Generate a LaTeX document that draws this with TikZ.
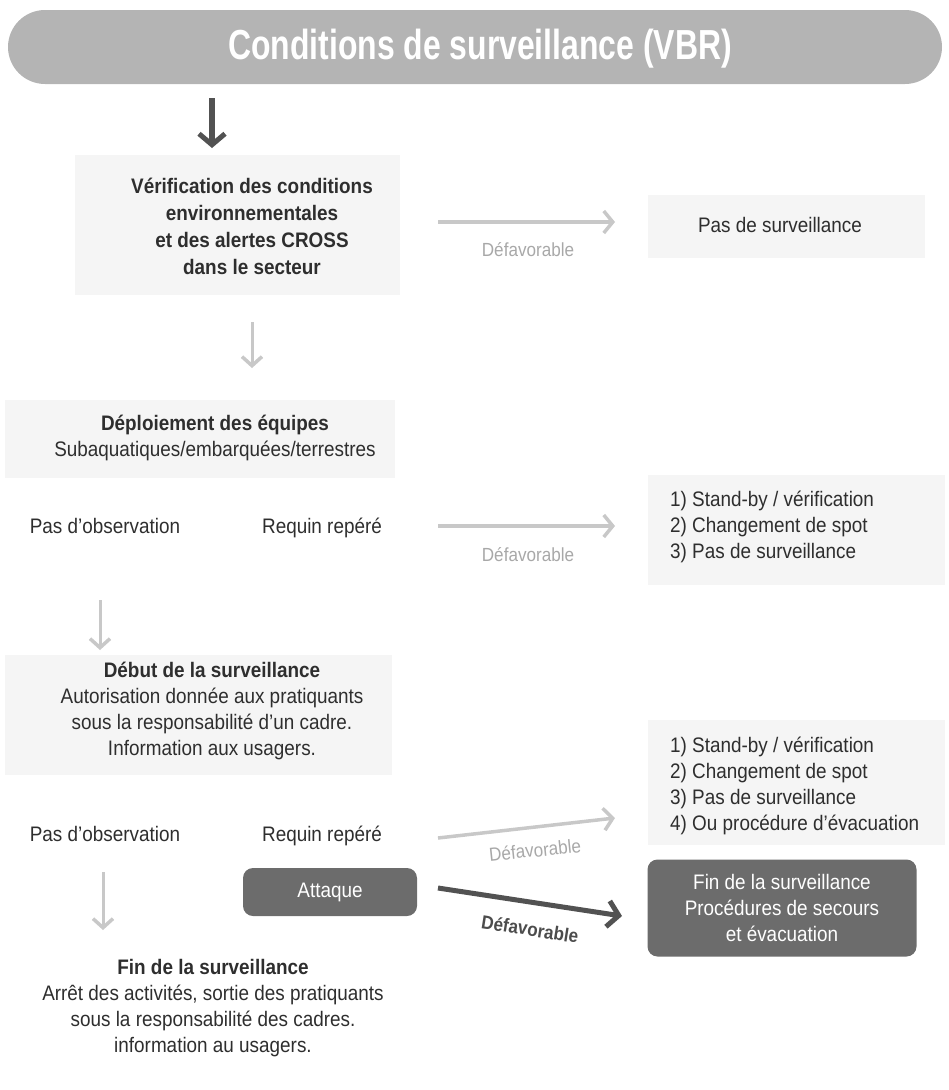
\documentclass[tikz,border=0pt]{standalone}
\usepackage{fontspec}
\setmainfont{Liberation Sans}[FakeStretch=0.9]
\newfontfamily\titlefont{Liberation Sans Bold}[FakeStretch=0.76]
\usetikzlibrary{arrows.meta}
\definecolor{txt}{HTML}{2E2E2E}
\definecolor{bannergray}{HTML}{B4B4B4}
\definecolor{boxgray}{HTML}{6C6C6C}
\definecolor{lightarr}{HTML}{C8C8C8}
\definecolor{faint}{HTML}{F5F5F5}
\definecolor{labgray}{HTML}{A8A8A8}
\tikzset{
  body/.style={text=txt, font=\fontsize{21}{26}\selectfont, align=center, inner sep=0pt},
  rowtxt/.style={text=txt, font=\fontsize{21}{26}\selectfont, inner sep=0pt, anchor=base},
  listtxt/.style={body, align=left, anchor=west},
  lab/.style={text=labgray, font=\fontsize{19}{20}\selectfont, inner sep=0pt},
  darklab/.style={text=black!70, font=\bfseries\fontsize{19}{20}\selectfont, inner sep=0pt},
  darkbox/.style={fill=boxgray, rounded corners=10pt, text=white, font=\fontsize{21}{26}\selectfont, align=center, inner sep=0pt},
  faintbg/.style={fill=faint},
  lightdown/.style={draw=lightarr, line width=3pt, -{Straight Barb[length=9pt,width=20pt,line width=3.5pt]}},
  lightright/.style={draw=lightarr, line width=3.5pt, -{Straight Barb[length=9pt,width=22pt,line width=3.5pt]}},
  heavyarr/.style={draw=black!68, line width=6pt, -{Straight Barb[length=11pt,width=26pt,line width=5pt]}},
}
\begin{document}
\begin{tikzpicture}[x=1pt,y=-1pt]
\useasboundingbox (0,0) rectangle (949,1090);

% faint textured backgrounds
\fill[faintbg] (75,155) rectangle (400,295);
\fill[faintbg] (648,195) rectangle (925,258);
\fill[faintbg] (5,400) rectangle (395,478);
\fill[faintbg] (648,475) rectangle (945,585);
\fill[faintbg] (5,655) rectangle (392,775);
\fill[faintbg] (648,720) rectangle (945,845);

% banner
\node[fill=bannergray, rounded corners=37pt, minimum width=934pt, minimum height=74pt, inner sep=0pt] (banner) at (475,47) {};
\node[text=white, font=\titlefont\fontsize{42}{46}\selectfont, inner sep=0pt] (title) at (480,49) {Conditions de surveillance (VBR)};

% block 1
\node[body, font=\bfseries\fontsize{21}{27}\selectfont] (verif) at (252,226)
  {Vérification des conditions\\environnementales\\et des alertes CROSS\\dans le secteur};
\node[body] (nosurv) at (780,225) {Pas de surveillance};

% block 2
\node[body] (deploi) at (215,438) {\textbf{Déploiement des équipes}\\Subaquatiques/embarquées/terrestres};
\node[rowtxt] (pasobsA) at (105,533) {Pas d'observation};
\node[rowtxt] (requinA) at (322,533) {Requin repéré};
\node[listtxt] (listA) at (670,527) {1) Stand-by / vérification\\2) Changement de spot\\3) Pas de surveillance};

% block 3
\node[body] (debut) at (212,711) {\textbf{Début de la surveillance}\\Autorisation donnée aux pratiquants\\sous la responsabilité d'un cadre.\\Information aux usagers.};
\node[listtxt] (listB) at (670,786) {1) Stand-by / vérification\\2) Changement de spot\\3) Pas de surveillance\\4) Ou procédure d'évacuation};
\node[rowtxt] (pasobsB) at (105,841) {Pas d'observation};
\node[rowtxt] (requinB) at (322,841) {Requin repéré};

% attack
\node[darkbox, minimum width=174pt, minimum height=48pt] (attaque) at (330,892) {Attaque};
\node[darkbox, minimum width=269pt, minimum height=97pt] (finbox) at (782,908) {Fin de la surveillance\\Procédures de secours\\et évacuation};

% block 4
\node[body] (fin) at (213,1008) {\textbf{Fin de la surveillance}\\Arrêt des activités, sortie des pratiquants\\sous la responsabilité des cadres.\\information au usagers.};

% connector end points
\coordinate (a0s) at (212,98);
\coordinate (a0e) at (212,148);
\coordinate (a1s) at (438,222);
\coordinate (a1e) at (615,222);
\coordinate (a2s) at (252,322);
\coordinate (a2e) at (252,368);
\coordinate (a3s) at (438,526);
\coordinate (a3e) at (615,526);
\coordinate (a4s) at (100,600);
\coordinate (a4e) at (100,650);
\coordinate (a5s) at (438,838);
\coordinate (a5e) at (615,818);
\coordinate (a6s) at (103,872);
\coordinate (a6e) at (103,930);
\coordinate (a7s) at (438,888);
\coordinate (a7e) at (622,916);

% connectors
\draw[heavyarr] (a0s) -- (a0e);
\draw[lightright] (a1s) -- (a1e);
\node[lab] (labA) at (528,250) {Défavorable};
\draw[lightdown] (a2s) -- (a2e);
\draw[lightright] (a3s) -- (a3e);
\node[lab] (labB) at (528,555) {Défavorable};
\draw[lightdown] (a4s) -- (a4e);
\draw[lightright] (a5s) -- (a5e);
\node[lab, rotate=6] (labC) at (535,850) {Défavorable};
\draw[lightdown] (a6s) -- (a6e);
\draw[heavyarr, line width=5pt] (a7s) -- (a7e);
\node[darklab, rotate=-9] (labD) at (530,929) {Défavorable};
\end{tikzpicture}
\end{document}
